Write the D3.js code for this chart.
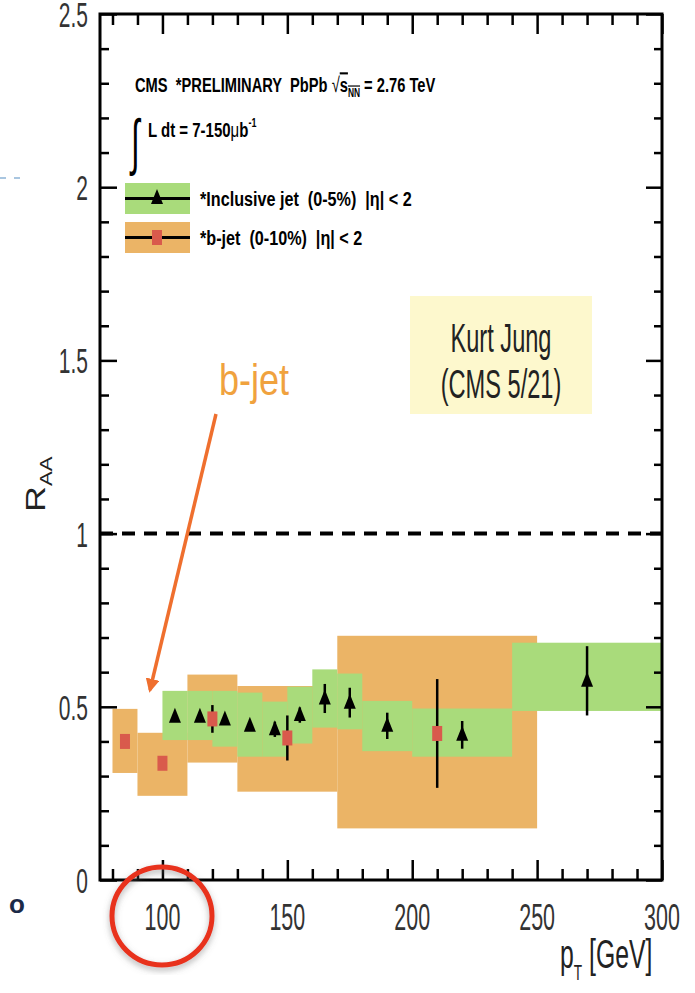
<!DOCTYPE html>
<html lang="en">
<head>
<meta charset="UTF-8" />
<title>RAA b-jet vs inclusive jet</title>
<style>
  body { margin: 0; background: #fff; }
  svg { display: block; font-family: "Liberation Sans", Arial, sans-serif; }
  svg text { white-space: pre; }
</style>
</head>
<body>
<script src="https://cdn.jsdelivr.net/npm/d3@7"></script>
<div id="app"></div>
<script>
// inclusive jet (0-5%)
const incPt = [105, 115, 125, 135, 145, 155, 165, 175, 190, 220, 270];
const incLo = [100, 110, 120, 130, 140, 150, 160, 170, 180, 200, 240];
const incHi = [110, 120, 130, 140, 150, 160, 170, 180, 200, 240, 300];
const incRaa = [0.471, 0.471, 0.463, 0.445, 0.435, 0.476, 0.524, 0.512, 0.445, 0.419, 0.575];
const incErr = [0.01, 0.01, 0.01, 0.01, 0.022, 0.022, 0.042, 0.043, 0.038, 0.04, 0.1];
const incSysLo = [0.404, 0.404, 0.385, 0.356, 0.356, 0.394, 0.44, 0.435, 0.372, 0.356, 0.488];
const incSysHi = [0.546, 0.546, 0.546, 0.541, 0.515, 0.558, 0.608, 0.596, 0.517, 0.495, 0.685];

// b-jet (0-10%)
const bPt = [85, 100, 120, 150, 210];
const bLo = [80, 90, 110, 130, 170];
const bHi = [90, 110, 130, 170, 250];
const bRaa = [0.40, 0.337, 0.465, 0.41, 0.423];
const bErr = [0.01, 0.01, 0.04, 0.065, 0.157];
const bSysLo = [0.309, 0.243, 0.339, 0.255, 0.149];
const bSysHi = [0.494, 0.425, 0.593, 0.56, 0.705];

const xMajor = [100, 150, 200, 250, 300];
const xMinor = [80, 90, 110, 120, 130, 140, 160, 170, 180, 190, 210, 220, 230, 240, 260, 270, 280, 290];
const yMajor = [0, 0.5, 1, 1.5, 2, 2.5];
const yLabels = ["0", "0.5", "1", "1.5", "2", "2.5"];

const W = 695, H = 993;
const green = "#a9db7b", orange = "#ebb466", redSq = "#d95a4c";

const svg = d3.select("#app").append("svg")
  .attr("width", W).attr("height", H);

const x = d3.scaleLinear().domain([75, 300]).range([100, 662]);
const y = d3.scaleLinear().domain([0, 2.5]).range([880, 14]);

// narrow text helper (the slide is squeezed sideways)
function txt(px, py, str, size, sx, anchor) {
  return svg.append("text")
    .attr("transform", `translate(${px},${py}) scale(${sx},1)`)
    .attr("font-size", size)
    .attr("text-anchor", anchor || "start")
    .text(str);
}

// orange (b-jet) systematic boxes, then green on top
const inc = incPt.map((p, i) => ({ p, lo: incLo[i], hi: incHi[i], v: incRaa[i], e: incErr[i], sl: incSysLo[i], sh: incSysHi[i] }));
const bj = bPt.map((p, i) => ({ p, lo: bLo[i], hi: bHi[i], v: bRaa[i], e: bErr[i], sl: bSysLo[i], sh: bSysHi[i] }));

svg.append("g").selectAll("rect").data(bj).enter().append("rect")
  .attr("x", d => x(d.lo)).attr("width", d => x(d.hi) - x(d.lo))
  .attr("y", d => y(d.sh)).attr("height", d => y(d.sl) - y(d.sh))
  .attr("fill", orange);

svg.append("g").selectAll("rect").data(inc).enter().append("rect")
  .attr("x", d => x(d.lo)).attr("width", d => x(d.hi) - x(d.lo))
  .attr("y", d => y(d.sh)).attr("height", d => y(d.sl) - y(d.sh))
  .attr("fill", green);

// error bars
svg.append("g").selectAll("line").data(inc.concat(bj)).enter().append("line")
  .attr("x1", d => x(d.p)).attr("x2", d => x(d.p))
  .attr("y1", d => y(d.v - d.e)).attr("y2", d => y(d.v + d.e))
  .attr("stroke", "#000").attr("stroke-width", 2.5);

// markers
const tri = "M0,-9L6,6L-6,6Z";
svg.append("g").selectAll("path").data(inc).enter().append("path")
  .attr("d", tri)
  .attr("transform", d => `translate(${x(d.p)},${y(d.v)})`)
  .attr("fill", "#000");

svg.append("g").selectAll("rect").data(bj).enter().append("rect")
  .attr("x", d => x(d.p) - 5).attr("y", d => y(d.v) - 7.5)
  .attr("width", 10).attr("height", 15)
  .attr("fill", redSq);

// R_AA = 1 reference
svg.append("line")
  .attr("x1", x(75)).attr("x2", x(300)).attr("y1", y(1)).attr("y2", y(1))
  .attr("stroke", "#000").attr("stroke-width", 4).attr("stroke-dasharray", "13,9");

// frame and ticks
svg.append("rect")
  .attr("x", x(75)).attr("y", y(2.5))
  .attr("width", x(300) - x(75)).attr("height", y(0) - y(2.5))
  .attr("fill", "none").attr("stroke", "#000").attr("stroke-width", 3);

const yMinor = d3.range(0, 25).map(i => i / 10).filter(v => Math.round(v * 10) % 5 !== 0);

function ticks(axisFn, scale, vals, size, tr) {
  svg.append("g").attr("transform", tr)
    .call(axisFn(scale).tickValues(vals).tickSize(size).tickFormat(""))
    .call(g => g.select(".domain").remove())
    .call(g => g.selectAll("line").attr("stroke-width", 2.5));
}
ticks(d3.axisBottom, x, xMajor, -20, `translate(0,${y(0)})`);
ticks(d3.axisBottom, x, xMinor, -11, `translate(0,${y(0)})`);
ticks(d3.axisTop, x, xMajor, -20, `translate(0,${y(2.5)})`);
ticks(d3.axisTop, x, xMinor, -11, `translate(0,${y(2.5)})`);
ticks(d3.axisLeft, y, yMajor, -17, `translate(${x(75)},0)`);
ticks(d3.axisLeft, y, yMinor, -9, `translate(${x(75)},0)`);
ticks(d3.axisRight, y, yMajor, -16, `translate(${x(300)},0)`);
ticks(d3.axisRight, y, yMinor, -8, `translate(${x(300)},0)`);

// tick labels
xMajor.forEach(v => txt(x(v), 930, String(v), 37, 0.58, "middle").attr("fill", "#333"));
yMajor.forEach((v, i) => txt(88, y(v) + 13, yLabels[i], 35, 0.6, "end").attr("fill", "#333"));

// axis titles
const yt = svg.append("text")
  .attr("transform", "translate(45,512) rotate(-90) scale(1,0.75)")
  .attr("font-size", 36).attr("fill", "#222");
yt.append("tspan").text("R");
yt.append("tspan").attr("font-size", 22).attr("dy", 9).text("AA");

const xt = svg.append("text")
  .attr("transform", "translate(560,968) scale(0.62,1)")
  .attr("font-size", 40).attr("fill", "#222");
xt.append("tspan").text("p");
xt.append("tspan").attr("font-size", 22).attr("dy", 12).text("T");
xt.append("tspan").attr("dy", -12).text(" [GeV]");

// header
const h1 = svg.append("text")
  .attr("transform", "translate(135,92) scale(0.7,1)")
  .attr("font-size", 21).attr("font-weight", "bold");
h1.append("tspan").text("CMS  *PRELIMINARY  PbPb ");
h1.append("tspan").attr("font-weight", "normal").text("\u221A");
h1.append("tspan").attr("text-decoration", "overline").text("s");
h1.append("tspan").attr("font-size", 12).attr("dy", 5).attr("text-decoration", "overline").text("NN");
h1.append("tspan").attr("dy", -5).text(" = 2.76 TeV");

txt(131, 163, "\u222B", 62, 0.5).attr("font-weight", "normal");
const h2 = svg.append("text")
  .attr("transform", "translate(148,137) scale(0.75,1)")
  .attr("font-size", 20).attr("font-weight", "bold");
h2.append("tspan").text("L dt = 7-150");
h2.append("tspan").attr("font-weight", "normal").text("\u03BC");
h2.append("tspan").text("b");
h2.append("tspan").attr("font-size", 12).attr("dy", -10).text("-1");

// legend
const leg = [
  { y: 183, fill: green, label: "*Inclusive jet  (0-5%)  |\u03B7| < 2", mark: "tri" },
  { y: 222, fill: orange, label: "*b-jet  (0-10%)  |\u03B7| < 2", mark: "sq" }
];
leg.forEach(l => {
  svg.append("rect").attr("x", 125).attr("y", l.y).attr("width", 65).attr("height", 31).attr("fill", l.fill);
  svg.append("line").attr("x1", 125).attr("x2", 190).attr("y1", l.y + 15.5).attr("y2", l.y + 15.5)
    .attr("stroke", "#000").attr("stroke-width", 3);
  if (l.mark === "tri") {
    svg.append("path").attr("d", tri).attr("transform", `translate(157,${l.y + 15})`).attr("fill", "#000");
  } else {
    svg.append("rect").attr("x", 152).attr("y", l.y + 8).attr("width", 10).attr("height", 15).attr("fill", redSq);
  }
  txt(200, l.y + 23, l.label, 21, 0.77).attr("font-weight", "bold");
});

// annotation box
svg.append("rect").attr("x", 410).attr("y", 296).attr("width", 182).attr("height", 118).attr("fill", "#fdf8cd");
txt(501, 352, "Kurt Jung", 40, 0.59, "middle").attr("fill", "#222");
txt(501, 398, "(CMS 5/21)", 40, 0.59, "middle").attr("fill", "#222");

// b-jet arrow
txt(254, 395, "b-jet", 44, 0.82, "middle").attr("fill", "#f0a23e");
svg.append("defs").append("marker")
  .attr("id", "head").attr("viewBox", "0 0 10 10").attr("refX", 8).attr("refY", 5)
  .attr("markerWidth", 4).attr("markerHeight", 4).attr("orient", "auto")
  .append("path").attr("d", "M0,0L10,5L0,10Z").attr("fill", "#ef6f2e");
svg.append("line")
  .attr("x1", 216).attr("y1", 414).attr("x2", 150).attr("y2", 690)
  .attr("stroke", "#ef6f2e").attr("stroke-width", 3.5).attr("marker-end", "url(#head)");

// slide leftovers
svg.append("defs").append("filter").attr("id", "shadow")
  .append("feDropShadow").attr("dx", 0).attr("dy", 3).attr("stdDeviation", 3).attr("flood-color", "#666").attr("flood-opacity", 0.5);
svg.append("ellipse").attr("cx", 162).attr("cy", 916).attr("rx", 50).attr("ry", 49)
  .attr("fill", "none").attr("stroke", "#e8301a").attr("stroke-width", 5).attr("filter", "url(#shadow)");
svg.append("text").attr("x", 9).attr("y", 913).attr("font-size", 26).attr("font-weight", "bold").attr("fill", "#1b2a48").text("o");
svg.append("line").attr("x1", 0).attr("x2", 20).attr("y1", 178).attr("y2", 178)
  .attr("stroke", "#a9c6e0").attr("stroke-width", 2).attr("stroke-dasharray", "6,8");
</script>
</body>
</html>
